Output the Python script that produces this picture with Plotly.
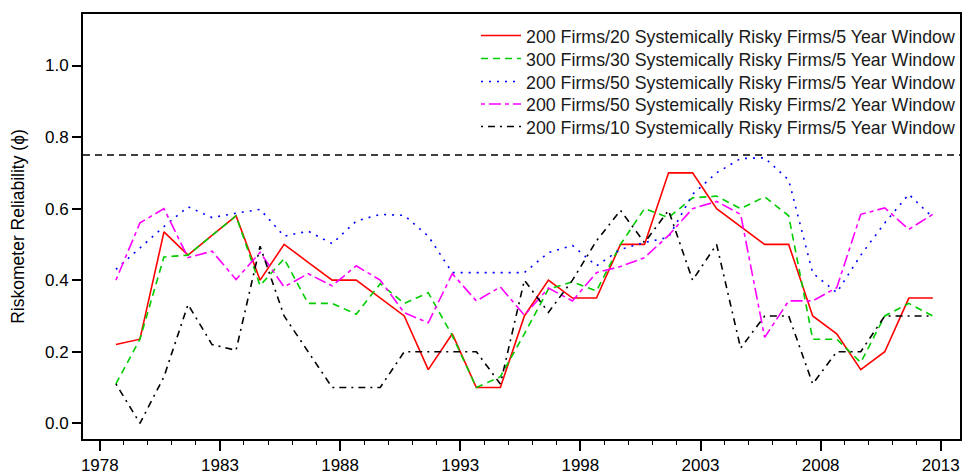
import plotly.graph_objects as go

YEARS = list(range(1978, 2013))
OBS_OFFSET = 0.67  # observations fall part-way through each year

S20_200_5Y = [0.22, 0.235, 0.535, 0.47, 0.525, 0.58, 0.40, 0.50, 0.45, 0.40,
              0.40, 0.35, 0.30, 0.15, 0.25, 0.10, 0.10, 0.30, 0.40, 0.35,
              0.35, 0.50, 0.50, 0.70, 0.70, 0.60, 0.55, 0.50, 0.50, 0.30,
              0.25, 0.15, 0.20, 0.35, 0.35]
S30_300_5Y = [0.11, 0.235, 0.465, 0.47, 0.525, 0.58, 0.385, 0.46, 0.335, 0.335,
              0.305, 0.39, 0.335, 0.365, 0.245, 0.10, 0.13, 0.25, 0.375, 0.395,
              0.37, 0.50, 0.60, 0.575, 0.63, 0.635, 0.60, 0.633, 0.58, 0.235,
              0.235, 0.17, 0.30, 0.335, 0.30]
S50_200_5Y = [0.43, 0.49, 0.55, 0.605, 0.575, 0.587, 0.598, 0.523, 0.537, 0.502,
              0.565, 0.584, 0.581, 0.523, 0.421, 0.421, 0.421, 0.421, 0.477, 0.497,
              0.44, 0.486, 0.505, 0.52, 0.64, 0.70, 0.74, 0.742, 0.68, 0.42,
              0.365, 0.47, 0.56, 0.64, 0.575]
S50_200_2Y = [0.40, 0.56, 0.60, 0.463, 0.481, 0.402, 0.478, 0.381, 0.418, 0.384,
              0.44, 0.40, 0.309, 0.281, 0.418, 0.342, 0.381, 0.302, 0.378, 0.342,
              0.421, 0.438, 0.463, 0.525, 0.60, 0.62, 0.584, 0.24, 0.342, 0.342,
              0.379, 0.584, 0.602, 0.542, 0.584]
S10_200_5Y = [0.11, 0.0, 0.13, 0.332, 0.22, 0.204, 0.495, 0.30, 0.20, 0.10,
              0.10, 0.10, 0.20, 0.20, 0.20, 0.20, 0.11, 0.40, 0.31, 0.40,
              0.51, 0.595, 0.505, 0.595, 0.40, 0.50, 0.21, 0.30, 0.30, 0.11,
              0.20, 0.20, 0.30, 0.30, 0.30]

SERIES_NAMES = [
    "200 Firms/20 Systemically Risky Firms/5 Year Window",
    "300 Firms/30 Systemically Risky Firms/5 Year Window",
    "200 Firms/50 Systemically Risky Firms/5 Year Window",
    "200 Firms/50 Systemically Risky Firms/2 Year Window",
    "200 Firms/10 Systemically Risky Firms/5 Year Window",
]
THRESHOLD = 0.75
X_TICKS = [1978, 1983, 1988, 1993, 1998, 2003, 2008, 2013]
Y_TICKS = [0.0, 0.2, 0.4, 0.6, 0.8, 1.0]

x = [y + OBS_OFFSET for y in YEARS]
series = [S20_200_5Y, S30_300_5Y, S50_200_5Y, S50_200_2Y, S10_200_5Y]
styles = [
    dict(color="#FF0000", dash="solid", width=1.6),
    dict(color="#00CD00", dash="7px,5px", width=1.6),
    dict(color="#0000FF", dash="2px,6px", width=1.6),
    dict(color="#FF00FF", dash="4px,4px,12px,4px", width=1.6),
    dict(color="#000000", dash="2px,5px,7px,5px", width=1.6),
]

FONT = "Liberation Sans, Arial, sans-serif"
W, H = 964, 475
ML, MR, MT, MB = 83, 4, 14, 36
PLOT_W, PLOT_H = W - ML - MR, H - MT - MB
LEGEND_ROWS_PX = [36, 59, 82, 104.5, 127]   # row centres (px from top)
LEGEND_LEFT_PX = 476

legend_ids = ["legend", "legend2", "legend3", "legend4", "legend5"]

fig = go.Figure()
for name, vals, st, lid in zip(SERIES_NAMES, series, styles, legend_ids):
    fig.add_trace(go.Scatter(x=x, y=vals, mode="lines", name=name, line=st,
                             legend=lid))

fig.add_hline(y=THRESHOLD, line=dict(color="black", dash="7px,5px", width=1.4))

legend_layout = {}
for lid, row in zip(legend_ids, LEGEND_ROWS_PX):
    legend_layout[lid] = dict(
        x=(LEGEND_LEFT_PX - ML) / PLOT_W, xanchor="left",
        y=1 - (row - MT) / PLOT_H, yanchor="middle",
        bgcolor="rgba(0,0,0,0)", borderwidth=0,
        font=dict(size=17.8, color="#1a1a1a", family=FONT),
        itemwidth=40,
    )

fig.update_layout(
    width=W, height=H, autosize=False,
    margin=dict(l=ML, r=MR, t=MT, b=MB, pad=0, autoexpand=False),
    paper_bgcolor="white", plot_bgcolor="white",
    font=dict(family=FONT, size=17, color="black"),
    showlegend=True,
    **legend_layout,
)
fig.update_xaxes(
    range=[1977.3, 2013.8], tickvals=X_TICKS, ticks="outside", ticklen=10,
    tickwidth=1.5, tickcolor="black", showline=True, linewidth=2,
    linecolor="black", mirror=True, showgrid=False, zeroline=False,
    tickfont=dict(size=17), automargin=False,
    minor=dict(dtick=1, tick0=1978, ticks="outside", ticklen=4,
               tickwidth=1.3, tickcolor="black", showgrid=False),
)
fig.update_yaxes(
    range=[-0.044, 1.144], tickvals=Y_TICKS, tickformat=".1f",
    ticks="outside", ticklen=9, tickwidth=1.5, tickcolor="black",
    showline=True, linewidth=2, linecolor="black", mirror=True,
    showgrid=False, zeroline=False, tickfont=dict(size=17), automargin=False,
    title=dict(text="Riskometer Reliability (ϕ)", font=dict(size=17.5), standoff=16),
)

fig.write_html("out.html", config={"displayModeBar": False},
               post_script="document.body.style.margin='0';document.body.style.overflow='hidden';")
